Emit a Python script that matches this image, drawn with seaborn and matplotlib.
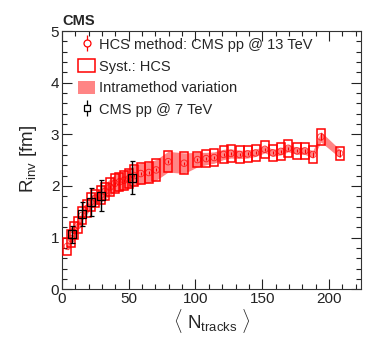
#Import Libraries
import numpy as np
import pandas as pd
import matplotlib
matplotlib.use("Agg")
import matplotlib.pyplot as plt
import seaborn as sns
from matplotlib.patches import Rectangle
from matplotlib.lines import Line2D
from matplotlib.ticker import MultipleLocator

#HCS method, CMS pp @ 13 TeV
n_hcs = [4, 7, 9, 12, 15, 18.5, 21.5, 25, 29, 32, 36, 39.5, 43, 46.5, 50, 54, 59, 65,
         70.5, 79.5, 91.5, 101.5, 108, 114, 121, 126.5, 133, 139, 145, 152, 158, 164,
         169.5, 176, 182, 188, 194, 208]
r_hcs = [0.83, 0.98, 1.14, 1.24, 1.43, 1.56, 1.69, 1.76, 1.82, 1.89, 1.98, 2.05, 2.08, 2.11,
         2.14, 2.20, 2.24, 2.26, 2.31, 2.47, 2.44, 2.51, 2.53, 2.55, 2.61, 2.63, 2.61, 2.62,
         2.64, 2.71, 2.64, 2.67, 2.73, 2.68, 2.68, 2.61, 2.95, 2.63]
stat_hcs = [0.03, 0.03, 0.03, 0.03, 0.03, 0.03, 0.03, 0.03, 0.03, 0.03, 0.03, 0.03, 0.03, 0.03,
            0.03, 0.03, 0.03, 0.03, 0.03, 0.03, 0.03, 0.03, 0.03, 0.03, 0.03, 0.03, 0.03, 0.03,
            0.03, 0.03, 0.03, 0.03, 0.03, 0.03, 0.04, 0.05, 0.07, 0.06]
syst_hcs = [0.16, 0.16, 0.16, 0.16, 0.16, 0.17, 0.17, 0.17, 0.17, 0.17, 0.17, 0.18, 0.18, 0.18,
            0.18, 0.2, 0.2, 0.2, 0.21, 0.2, 0.21, 0.15, 0.16, 0.16, 0.16, 0.16, 0.16, 0.16,
            0.16, 0.16, 0.16, 0.16, 0.16, 0.16, 0.16, 0.16, 0.16, 0.13]
intra_hcs = [0.08, 0.08, 0.09, 0.1, 0.1, 0.11, 0.12, 0.13, 0.14, 0.15, 0.16, 0.17, 0.18, 0.19,
             0.2, 0.2, 0.2, 0.2, 0.2, 0.2, 0.2, 0.14, 0.12, 0.11, 0.1, 0.09, 0.08, 0.08,
             0.07, 0.07, 0.07, 0.07, 0.07, 0.07, 0.07, 0.07, 0.1, 0.08]
syst_halfwidth = 3.0

#CMS pp @ 7 TeV
n_7 = [7.7, 15, 21.5, 29, 52.7]
r_7 = [1.06, 1.45, 1.69, 1.81, 2.16]
err_7 = [0.16, 0.23, 0.27, 0.30, 0.32]

df = pd.DataFrame({"n": n_hcs, "r": r_hcs})
r_arr = np.array(r_hcs)
intra_arr = np.array(intra_hcs)

#Style
sns.set_style("ticks")
plt.rcParams['font.family'] = ['Liberation Sans', 'DejaVu Sans']
plt.rcParams['mathtext.fontset'] = 'custom'
plt.rcParams['mathtext.rm'] = 'Liberation Sans'
plt.rcParams['mathtext.it'] = 'Liberation Sans:italic'

fig = plt.figure(figsize=(3.74, 3.57), dpi=100)
ax = fig.add_axes([0.166, 0.19, 0.799, 0.723])

red = '#ff0000'
band_col = '#ff8585'

#Intramethod variation band
ax.fill_between(n_hcs, r_arr - intra_arr, r_arr + intra_arr, color=band_col, lw=0, zorder=1)

#Systematic boxes
for xi, ri, si in zip(n_hcs, r_hcs, syst_hcs):
    ax.add_patch(Rectangle((xi - syst_halfwidth, ri - si), 2 * syst_halfwidth, 2 * si,
                           fill=False, ec=red, lw=1.1, zorder=3))

#HCS points
ax.errorbar(n_hcs, r_hcs, yerr=stat_hcs, fmt='none', ecolor=red, elinewidth=0.8, zorder=4)
sns.scatterplot(data=df, x="n", y="r", marker='o', s=22, fc='none', ec=red,
                linewidth=0.7, alpha=0.7, ax=ax, zorder=5)

#7 TeV points
ax.errorbar(n_7, r_7, yerr=err_7, fmt='s', mfc='none', mec='black', ms=5.5, mew=0.9,
            ecolor='black', elinewidth=1.0, capsize=1.8, zorder=6)

#Axes
ax.set_xlim(0, 224)
ax.set_ylim(0, 5)
ax.xaxis.set_major_locator(MultipleLocator(50))
ax.xaxis.set_minor_locator(MultipleLocator(10))
ax.yaxis.set_major_locator(MultipleLocator(1))
ax.yaxis.set_minor_locator(MultipleLocator(0.2))
ax.tick_params(which='both', direction='in', top=True, right=True, width=0.8,
               labelsize=11, pad=2, colors='#222222')
ax.tick_params(which='major', length=7)
ax.tick_params(which='minor', length=3.5)
for sp in ax.spines.values():
    sp.set_linewidth(0.8)
    sp.set_color('#333333')

ax.set_xlabel(r"$\langle\ \mathrm{N}_{\mathrm{tracks}}\ \rangle$", fontsize=13.5)
ax.xaxis.set_label_coords(0.5, -0.07)
ax.set_ylabel(r"R$_{\mathrm{inv}}$ [fm]", fontsize=13.5)
ax.yaxis.set_label_coords(-0.078, 0.505)

fig.text(0.166, 0.93, "CMS", fontsize=10.5, fontweight='bold', va='baseline')

#Legend
h_hcs = (Line2D([], [], marker='|', ls='none', color=red, ms=12, mew=0.9),
         Line2D([], [], marker='o', ls='none', mfc='white', mec=red, ms=5, mew=0.9))
h_syst = Rectangle((0, 0), 1, 1, fill=False, ec=red, lw=1.1)
h_band = Rectangle((0, 0), 1, 1, fc=band_col, ec='none')
h_7 = (Line2D([], [], marker='|', ls='none', color='black', ms=12, mew=0.9),
       Line2D([], [], marker='s', ls='none', mfc='white', mec='black', ms=5, mew=0.9))
ax.legend([h_hcs, h_syst, h_band, h_7],
          ["HCS method: CMS pp @ 13 TeV", "Syst.: HCS", "Intramethod variation", "CMS pp @ 7 TeV"],
          loc='upper left', bbox_to_anchor=(0.054, 0.975), frameon=False, fontsize=10.5,
          handlelength=1.16, handleheight=1.0, handletextpad=0.25, labelspacing=0.48,
          borderpad=0, borderaxespad=0)

plt.savefig("out.png", dpi=100)
